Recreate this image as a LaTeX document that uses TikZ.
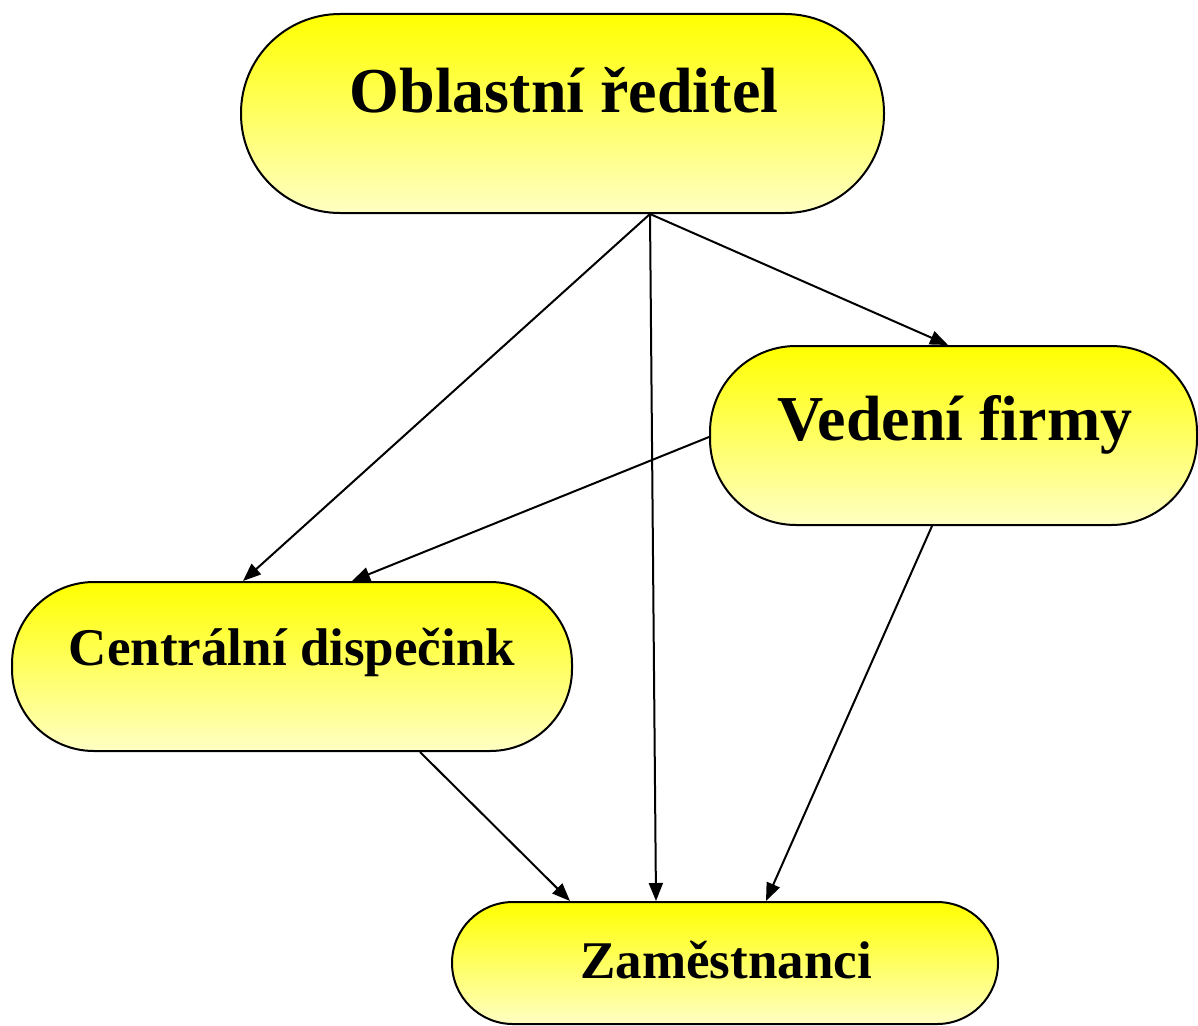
\documentclass[tikz,border=0pt]{standalone}
\usepackage{fontspec}
\setmainfont{Liberation Serif}
\usetikzlibrary{arrows.meta,calc}
\definecolor{paleyel}{RGB}{255,255,195}
\begin{document}
\begin{tikzpicture}[x=1pt,y=-1pt,
  box/.style={draw=black,line width=2pt,top color=yellow,bottom color=paleyel,
    shading angle=0,inner sep=0pt,rectangle},
  lblbig/.style={anchor=base,inner sep=0pt,font=\fontsize{64}{64}\selectfont\bfseries},
  lblsmall/.style={anchor=base,inner sep=0pt,font=\fontsize{53}{53}\selectfont\bfseries},
  conn/.style={line width=2pt,-{Triangle[length=18pt,width=14pt]}}]
\useasboundingbox (0,0) rectangle (1198,1025);
\node[box,minimum width=643pt,minimum height=199pt,rounded corners=99pt] (obl) at (562.5,113.5) {};
\node[box,minimum width=487pt,minimum height=179pt,rounded corners=86pt] (ved) at (953.5,435.5) {};
\node[box,minimum width=560pt,minimum height=169pt,rounded corners=82pt] (cen) at (292,666.5) {};
\node[box,minimum width=546pt,minimum height=122pt,rounded corners=61pt] (zam) at (725,963) {};
\node[lblbig] (oblT) at (564,112) {Oblastní ředitel};
\node[lblbig] (vedT) at (955,440) {Vedení firmy};
\node[lblsmall] (cenT) at (292,665) {Centrální dispečink};
\node[lblsmall] (zamT) at (726,978) {Zaměstnanci};
\coordinate (o1) at ($(obl.south)+(87.5,0)$);
\draw[conn] (o1) -- ($(cen.north)+(-49,0)$);
\draw[conn] (o1) -- ($(zam.north)+(-69,0)$);
\draw[conn] (o1) -- ($(ved.north)+(-5.5,0)$);
\draw[conn] ($(ved.west)+(0,1.5)$) -- ($(cen.north)+(60,0)$);
\draw[conn] ($(cen.south)+(128,0)$) -- ($(zam.north)+(-155,0)$);
\draw[conn] ($(ved.south)+(-21.5,0)$) -- ($(zam.north)+(41,0)$);
\end{tikzpicture}
\end{document}
